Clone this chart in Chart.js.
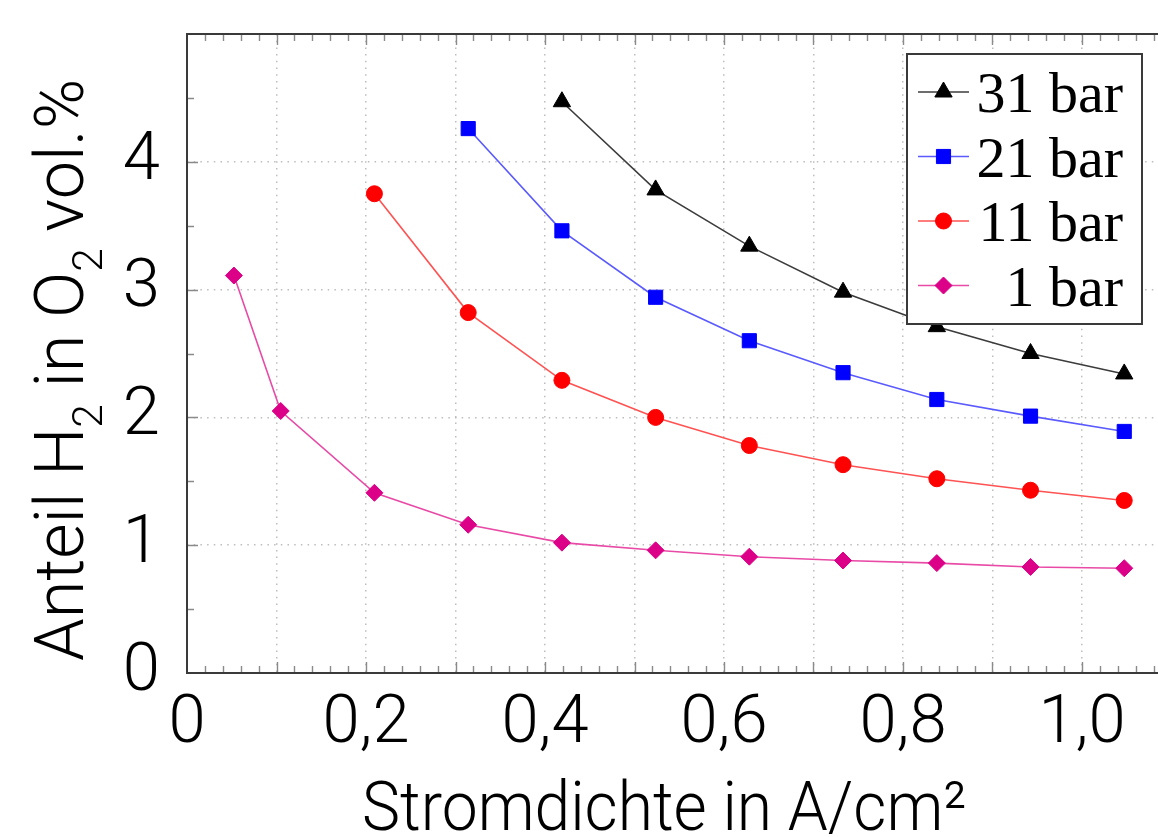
<!DOCTYPE html>
<html>
<head>
<meta charset="utf-8">
<script src="https://cdn.jsdelivr.net/npm/chart.js@4/dist/chart.umd.min.js"></script>
<style>
  html, body { margin: 0; padding: 0; background: #fff; overflow: hidden; }
  canvas { display: block; }
</style>
</head>
<body>
<canvas id="chart" width="1200" height="837"></canvas>
<script>
// Current density steps (A/cm²) shared by all pressure series
const currentDensity = [0.0524, 0.1047, 0.2094, 0.3142, 0.4189, 0.5236, 0.6283, 0.7330, 0.8378, 0.9425, 1.0472];

// H2 content in O2 (vol.%) per pressure level; each series starts at the given index of currentDensity
const seriesLabels = ['31 bar', '21 bar', '11 bar', '1 bar'];
const h2At31bar = [4.47, 3.78, 3.34, 2.98, 2.71, 2.50, 2.34];
const h2At21bar = [4.26, 3.46, 2.94, 2.60, 2.35, 2.14, 2.01, 1.89];
const h2At11bar = [3.75, 2.82, 2.29, 2.00, 1.78, 1.63, 1.52, 1.43, 1.35];
const h2At1bar  = [3.11, 2.05, 1.41, 1.16, 1.02, 0.96, 0.91, 0.88, 0.86, 0.83, 0.82];
const seriesStart = [4, 3, 2, 0];

const xTickLabels = ['0', '0,2', '0,4', '0,6', '0,8', '1,0'];
const yTickLabels = ['0', '1', '2', '3', '4'];
const xTitle = 'Stromdichte in A/cm²';
const yTitle = [{ t: 'Anteil H' }, { t: '2', sub: true }, { t: ' in O' }, { t: '2', sub: true }, { t: ' vol.%' }];

const SANS = 'Roboto, "Open Sans", "DejaVu Sans", sans-serif';
const SERIF = '"Liberation Serif", "DejaVu Serif", serif';

const near = (v, step) => Math.abs(v / step - Math.round(v / step)) < 1e-6;
const toPoints = (values, first) => values.map((v, i) => ({ x: currentDensity[first + i], y: v }));

const styles = [
  { line: '#3c3c3c', mark: '#000000', shape: 'triangle', r: 10 },
  { line: '#5a5aff', mark: '#0000ff', shape: 'rect', r: 10 },
  { line: '#ff5252', mark: '#ff0000', shape: 'circle', r: 8 },
  { line: '#e84aa6', mark: '#dc0088', shape: 'rectRot', r: 8.5 }
];
const seriesValues = [h2At31bar, h2At21bar, h2At11bar, h2At1bar];

const datasets = seriesValues.map((vals, i) => ({
  label: seriesLabels[i],
  data: toPoints(vals, seriesStart[i]),
  borderColor: styles[i].line,
  borderWidth: 1.6,
  pointStyle: styles[i].shape,
  pointRadius: styles[i].r,
  pointBackgroundColor: styles[i].mark,
  pointBorderColor: styles[i].mark,
  pointBorderWidth: 1,
  tension: 0,
  fill: false
}));

// Frame with inward tick marks on all four sides
const framePlugin = {
  id: 'frame',
  beforeDatasetsDraw(chart) {
    const { ctx, chartArea: a, scales: { x, y } } = chart;
    ctx.save();
    ctx.strokeStyle = '#8a8a8a';
    ctx.lineWidth = 1.4;
    ctx.beginPath();
    x.ticks.forEach(t => {
      if (t.value <= x.min || t.value >= x.max) return;
      const px = Math.round(x.getPixelForValue(t.value)) + 0.5;
      const len = near(t.value, 0.1) ? 11 : 7;
      ctx.moveTo(px, a.bottom); ctx.lineTo(px, a.bottom - len);
      ctx.moveTo(px, a.top); ctx.lineTo(px, a.top + len);
    });
    y.ticks.forEach(t => {
      if (t.value <= y.min || t.value >= y.max) return;
      const py = Math.round(y.getPixelForValue(t.value)) + 0.5;
      const len = near(t.value, 1) ? 11 : 7;
      ctx.moveTo(a.left, py); ctx.lineTo(a.left + len, py);
      ctx.moveTo(a.right, py); ctx.lineTo(a.right - len, py);
    });
    ctx.stroke();
    ctx.strokeStyle = '#3a3a3a';
    ctx.lineWidth = 2;
    ctx.strokeRect(a.left, a.top, a.right - a.left, a.bottom - a.top);
    ctx.restore();
  }
};

// Boxed legend in the upper right corner
const legendPlugin = {
  id: 'boxLegend',
  afterDatasetsDraw(chart) {
    const { ctx } = chart;
    const box = { x: 907, y: 54, w: 235, h: 270 };
    ctx.save();
    ctx.fillStyle = '#fff';
    ctx.fillRect(box.x, box.y, box.w, box.h);
    ctx.strokeStyle = '#3a3a3a';
    ctx.lineWidth = 2;
    ctx.strokeRect(box.x, box.y, box.w, box.h);
    chart.data.datasets.forEach((ds, i) => {
      const cy = 92 + i * 64.5;
      ctx.strokeStyle = ds.borderColor;
      ctx.lineWidth = ds.borderWidth;
      ctx.beginPath();
      ctx.moveTo(918, cy); ctx.lineTo(969, cy);
      ctx.stroke();
      ctx.fillStyle = ds.pointBackgroundColor;
      ctx.strokeStyle = ds.pointBorderColor;
      ctx.lineWidth = ds.pointBorderWidth;
      Chart.helpers.drawPoint(ctx, { pointStyle: ds.pointStyle, radius: ds.pointRadius, rotation: 0, borderWidth: 1 }, 943.5, cy);
      ctx.fillStyle = '#000';
      ctx.font = `58px ${SERIF}`;
      ctx.textAlign = 'right';
      ctx.textBaseline = 'alphabetic';
      ctx.fillText(ds.label, 1123, cy + 20);
    });
    ctx.restore();
  }
};

// Axis titles, slightly condensed, with subscripts on the vertical one
function drawRich(ctx, segs, size, sx) {
  ctx.scale(sx, 1);
  let cx = 0;
  segs.forEach(s => {
    const fs = s.sub ? size * 0.62 : size;
    ctx.font = `300 ${fs}px ${SANS}`;
    ctx.fillText(s.t, cx, s.sub ? size * 0.27 : 0);
    cx += ctx.measureText(s.t).width;
  });
}
const titlePlugin = {
  id: 'axisTitles',
  afterDraw(chart) {
    const { ctx } = chart;
    ctx.save();
    ctx.fillStyle = '#000';
    ctx.textAlign = 'left';
    ctx.textBaseline = 'alphabetic';
    ctx.translate(362, 830);
    drawRich(ctx, [{ t: xTitle }], 69, 0.93);
    ctx.restore();
    ctx.save();
    ctx.fillStyle = '#000';
    ctx.textAlign = 'left';
    ctx.textBaseline = 'alphabetic';
    ctx.translate(83, 661);
    ctx.rotate(-Math.PI / 2);
    drawRich(ctx, yTitle, 69, 0.99);
    ctx.restore();
  }
};

new Chart(document.getElementById('chart'), {
  type: 'line',
  data: { datasets },
  options: {
    responsive: false,
    animation: false,
    layout: { padding: { top: 34, right: 28.5, left: 0, bottom: 0 } },
    plugins: { legend: { display: false }, tooltip: { enabled: false } },
    scales: {
      x: {
        type: 'linear',
        min: 0,
        max: 1.1,
        afterFit(s) { s.height = 164; s.paddingLeft = 0; s.paddingRight = 0; },
        border: { display: false, dash: [1.5, 5.2] },
        grid: {
          drawTicks: false,
          lineWidth: 1.5,
          color: c => (c.tick && c.tick.value > 0 && c.tick.value < 1.1 && near(c.tick.value, 0.1)) ? '#bdbdbd' : 'rgba(0,0,0,0)'
        },
        ticks: {
          stepSize: 0.02,
          autoSkip: false,
          maxRotation: 0,
          maxTicksLimit: 1000,
          padding: 12,
          color: '#000',
          font: { family: SANS, size: 67, weight: '300' },
          callback: v => (near(v, 0.2) && v <= 1.0001) ? xTickLabels[Math.round(v / 0.2)] : ''
        }
      },
      y: {
        type: 'linear',
        min: 0,
        max: 5,
        afterFit(s) { s.width = 187; s.paddingTop = 0; s.paddingBottom = 0; },
        border: { display: false, dash: [1.5, 5.2] },
        grid: {
          drawTicks: false,
          lineWidth: 1.5,
          color: c => (c.tick && c.tick.value > 0 && c.tick.value < 5 && near(c.tick.value, 1)) ? '#bdbdbd' : 'rgba(0,0,0,0)'
        },
        ticks: {
          stepSize: 0.5,
          autoSkip: false,
          maxTicksLimit: 1000,
          padding: 27,
          color: '#000',
          font: { family: SANS, size: 67, weight: '300' },
          callback: v => (near(v, 1) && v <= 4) ? yTickLabels[Math.round(v)] : ''
        }
      }
    }
  },
  plugins: [framePlugin, legendPlugin, titlePlugin]
});
</script>
</body>
</html>
